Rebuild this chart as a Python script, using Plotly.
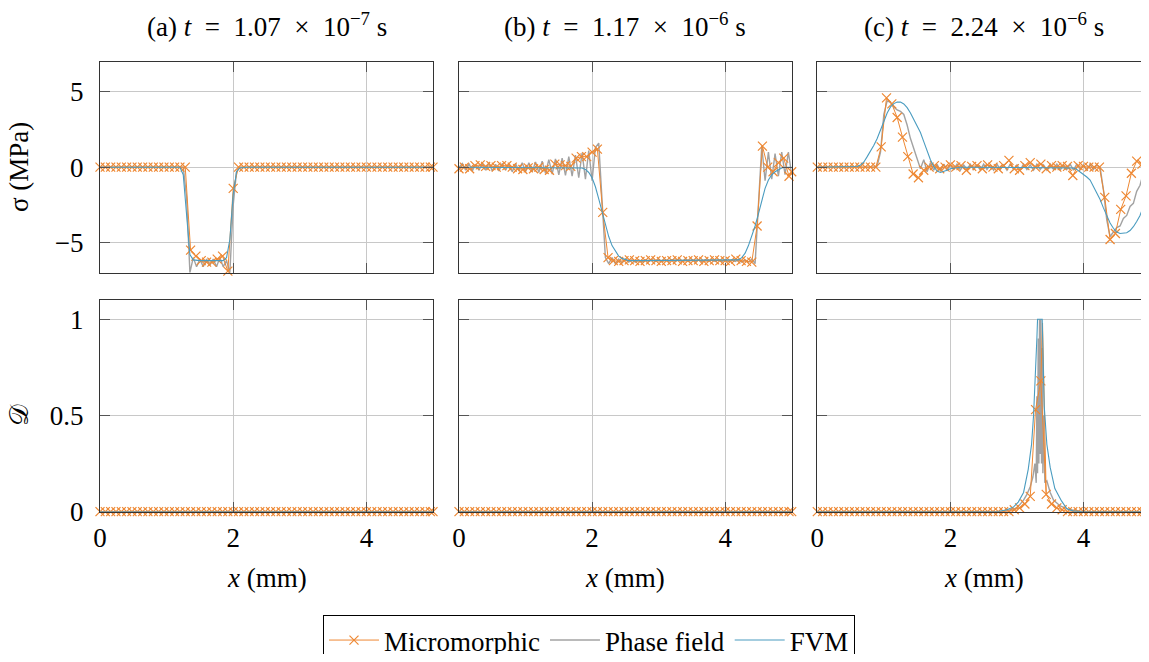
import plotly.graph_objects as go

# ---------------- data ----------------
# micromorphic sampling grid (mm)
X_MM = [0.00, 0.08, 0.16, 0.24, 0.32, 0.40, 0.48, 0.56, 0.64, 0.72,
        0.80, 0.88, 0.96, 1.04, 1.12, 1.20, 1.28, 1.36, 1.44, 1.52,
        1.60, 1.68, 1.76, 1.84, 1.92, 2.00, 2.08, 2.16, 2.24, 2.32,
        2.40, 2.48, 2.56, 2.64, 2.72, 2.80, 2.88, 2.96, 3.04, 3.12,
        3.20, 3.28, 3.36, 3.44, 3.52, 3.60, 3.68, 3.76, 3.84, 3.92,
        4.00, 4.08, 4.16, 4.24, 4.32, 4.40, 4.48, 4.56, 4.64, 4.72,
        4.80, 4.88, 4.96, 5.00]

# phase field / FVM sampling grid (mm)
X_FINE = [0.00, 0.05, 0.10, 0.15, 0.20, 0.25, 0.30, 0.35, 0.40, 0.45,
          0.50, 0.55, 0.60, 0.65, 0.70, 0.75, 0.80, 0.85, 0.90, 0.95,
          1.00, 1.05, 1.10, 1.15, 1.20, 1.25, 1.30, 1.35, 1.40, 1.45,
          1.50, 1.55, 1.60, 1.65, 1.70, 1.75, 1.80, 1.85, 1.90, 1.95,
          2.00, 2.05, 2.10, 2.15, 2.20, 2.25, 2.30, 2.35, 2.40, 2.45,
          2.50, 2.55, 2.60, 2.65, 2.70, 2.75, 2.80, 2.85, 2.90, 2.95,
          3.00, 3.05, 3.10, 3.15, 3.20, 3.25, 3.30, 3.35, 3.40, 3.45,
          3.50, 3.55, 3.60, 3.65, 3.70, 3.75, 3.80, 3.85, 3.90, 3.95,
          4.00, 4.05, 4.10, 4.15, 4.20, 4.25, 4.30, 4.35, 4.40, 4.45,
          4.50, 4.55, 4.60, 4.65, 4.70, 4.75, 4.80, 4.85, 4.90, 4.95,
          5.00]

X_ENDS = [0.0, 5.0]
ZERO_ENDS = [0.0, 0.0]

# ---- stress sigma (MPa), panel (a) ----
MM_SIG_A = [0, 0, 0, 0, 0, 0, 0, 0, 0, 0,
            0, 0, 0, 0, 0, 0, 0, -5.5, -5.9, -6.2,
            -6.3, -6.3, -6.1, -5.9, -6.9, -1.4, 0, 0, 0, 0,
            0, 0, 0, 0, 0, 0, 0, 0, 0, 0,
            0, 0, 0, 0, 0, 0, 0, 0, 0, 0,
            0, 0, 0, 0, 0, 0, 0, 0, 0, 0,
            0, 0, 0, 0]
PF_SIG_A = [0, 0, 0, 0, 0, 0, 0, 0, 0, 0,
            0, 0, 0, 0, 0, 0, 0, 0, 0, 0,
            0, 0, 0, 0, 0, 0, -2.0, -7.0, -6.0, -6.6,
            -6.1, -6.6, -6.1, -6.5, -6.1, -6.6, -6.0, -6.6, -6.2, -7.0,
            -2.5, -0.3, 0, 0, 0, 0, 0, 0, 0, 0,
            0, 0, 0, 0, 0, 0, 0, 0, 0, 0,
            0, 0, 0, 0, 0, 0, 0, 0, 0, 0,
            0, 0, 0, 0, 0, 0, 0, 0, 0, 0,
            0, 0, 0, 0, 0, 0, 0, 0, 0, 0,
            0, 0, 0, 0, 0, 0, 0, 0, 0, 0,
            0]
FVM_SIG_A = [0, 0, 0, 0, 0, 0, 0, 0, 0, 0,
             0, 0, 0, 0, 0, 0, 0, 0, 0, 0,
             0, 0, 0, 0, 0, -0.5, -3.2, -5.8, -6.15, -6.2,
             -6.2, -6.2, -6.2, -6.2, -6.2, -6.2, -6.2, -6.2, -6.0, -4.8,
             -1.8, -0.3, -0.05, 0, 0, 0, 0, 0, 0, 0,
             0, 0, 0, 0, 0, 0, 0, 0, 0, 0,
             0, 0, 0, 0, 0, 0, 0, 0, 0, 0,
             0, 0, 0, 0, 0, 0, 0, 0, 0, 0,
             0, 0, 0, 0, 0, 0, 0, 0, 0, 0,
             0, 0, 0, 0, 0, 0, 0, 0, 0, 0,
             0]

# ---- panel (b) ----
MM_SIG_B = [-0.1, 0.0, -0.1, 0.1, 0.15, 0.05, 0.1, 0.0, 0.1, 0.1,
            0.0, -0.1, -0.15, -0.05, -0.1, 0.0, -0.15, -0.2, 0.2, 0.15,
            0.1, 0.05, 0.6, 0.7, 0.7, 1.0, 1.2, -3.0, -6.0, -6.2,
            -6.25, -6.2, -6.15, -6.2, -6.25, -6.2, -6.15, -6.2, -6.25, -6.2,
            -6.2, -6.15, -6.25, -6.2, -6.2, -6.15, -6.25, -6.2, -6.15, -6.2,
            -6.2, -6.25, -6.1, -6.2, -6.25, -6.3, -3.9, 1.4, 0.0, -0.3,
            0.3, 0.6, -0.6, -0.3]
PF_SIG_B = [0.0, 0.25, -0.2, 0.25, -0.25, 0.2, -0.2, 0.25, -0.2, 0.3,
            -0.25, 0.2, -0.25, 0.25, -0.2, 0.2, -0.3, 0.25, -0.25, 0.3,
            -0.3, 0.3, -0.3, 0.35, -0.35, 0.4, -0.4, 0.5, -0.45, 0.55,
            -0.5, 0.6, -0.55, 0.7, -0.6, 0.8, -0.7, 0.95, -0.8, 1.1,
            -0.9, 1.3, 1.6, -2.5, -6.0, -6.4, -6.0, -6.4, -6.1, -6.35,
            -6.1, -6.3, -6.15, -6.3, -6.15, -6.3, -6.15, -6.25, -6.15, -6.25,
            -6.15, -6.25, -6.15, -6.25, -6.15, -6.25, -6.15, -6.25, -6.15, -6.25,
            -6.15, -6.25, -6.15, -6.25, -6.15, -6.25, -6.15, -6.25, -6.15, -6.25,
            -6.15, -6.25, -6.15, -6.25, -6.15, -6.3, -6.15, -6.3, -6.1, -6.4,
            -2.5, 1.4, -0.9, 1.0, -0.8, 0.9, -0.6, 1.0, -0.5, 1.0,
            -0.5]
FVM_SIG_B = [0, 0, 0, 0, 0, 0, 0, 0, 0, 0,
             0, 0, 0, 0, 0, 0, 0, 0, 0, 0,
             0, 0, 0, 0, 0, 0, 0, 0, 0, 0,
             0, 0, 0, 0, 0, 0, 0, -0.05, -0.15, -0.35,
             -0.7, -1.3, -2.1, -2.9, -3.8, -4.6, -5.2, -5.6, -5.9, -6.05,
             -6.15, -6.2, -6.2, -6.2, -6.2, -6.2, -6.2, -6.2, -6.2, -6.2,
             -6.2, -6.2, -6.2, -6.2, -6.2, -6.2, -6.2, -6.2, -6.2, -6.2,
             -6.2, -6.2, -6.2, -6.2, -6.2, -6.2, -6.2, -6.2, -6.2, -6.2,
             -6.2, -6.2, -6.2, -6.2, -6.15, -6.0, -5.7, -5.2, -4.6, -3.9,
             -3.1, -2.2, -1.4, -0.85, -0.5, -0.3, -0.15, -0.05, 0, 0,
             0]

# ---- panel (c) ----
MM_SIG_C = [0, 0, 0, 0, 0, 0, 0, 0, 0, 0,
            0, 0, 1.35, 4.6, 4.2, 3.3, 2.0, 0.7, -0.45, -0.7,
            -0.2, 0.0, 0.1, -0.1, 0.0, 0.15, 0.0, 0.1, -0.2, 0.05,
            0.1, -0.1, 0.15, 0.0, -0.1, 0.1, 0.45, -0.1, -0.2, 0.1,
            0.3, 0.0, 0.2, -0.1, 0.1, 0.0, 0.1, 0.05, -0.55, 0.1,
            0.05, 0.0, 0.0, 0.0, -2.0, -4.8, -4.4, -2.8, -1.9, -0.4,
            0.4, 0.2, 0.4, 0.3]
PF_SIG_C = [0, 0, 0, 0, 0, 0, 0, 0, 0, 0,
            0, 0, 0, 0, 0, 0, 0, 0, 0.1, 1.0,
            3.5, 4.4, 4.3, 4.0, 3.8, 3.7, 3.5, 2.8, 1.9, 1.2,
            0.5, -0.1, 0.5, -0.3, 0.3, -0.2, 0.2, -0.25, 0.2, -0.2,
            0.15, -0.15, 0.2, -0.2, 0.15, -0.15, 0.2, -0.15, 0.15, -0.2,
            0.2, -0.15, 0.15, -0.2, 0.2, -0.15, 0.15, -0.2, 0.2, -0.15,
            0.15, -0.2, 0.2, -0.15, 0.15, -0.2, 0.2, -0.15, 0.15, -0.2,
            0.2, -0.15, 0.2, -0.2, 0.15, -0.15, 0.2, -0.2, 0.2, -0.15,
            0.15, -0.2, 0.2, -0.15, 0.15, 0.0, -1.5, -3.5, -4.6, -4.3,
            -4.0, -3.9, -3.4, -3.2, -2.6, -2.4, -1.6, -1.2, -0.4, 0.1,
            0.3]
FVM_SIG_C = [0, 0, 0, 0, 0, 0, 0, 0, 0, 0,
             0, 0, 0.05, 0.15, 0.35, 0.7, 1.05, 1.45, 1.9, 2.45,
             3.1, 3.6, 4.0, 4.22, 4.33, 4.32, 4.2, 3.95, 3.6, 3.2,
             2.8, 2.3, 1.7, 1.1, 0.5, 0.05, -0.25, -0.35, -0.3, -0.2,
             -0.1, -0.05, 0, 0, 0, 0, 0, 0, 0, 0,
             0, 0, 0, 0, 0, 0, 0, 0, 0, 0,
             0, 0, 0, 0, 0, 0, 0, 0, 0, 0,
             0, 0, 0, 0, 0, 0, 0, -0.05, -0.15, -0.3,
             -0.45, -0.65, -0.85, -1.25, -1.7, -2.15, -2.7, -3.25, -3.7, -4.05,
             -4.3, -4.4, -4.4, -4.35, -4.2, -3.95, -3.6, -3.2, -2.6, -1.7,
             -0.8]

# ---- damage D ----
MM_D_ZERO = [0.0] * 64
MM_D_C = [0, 0, 0, 0, 0, 0, 0, 0, 0, 0,
          0, 0, 0, 0, 0, 0, 0, 0, 0, 0,
          0, 0, 0, 0, 0, 0, 0, 0, 0, 0,
          0, 0, 0, 0, 0, 0, 0, 0.01, 0.02, 0.04,
          0.08, 0.53, 0.68, 0.09, 0.04, 0.02, 0.01, 0, 0, 0,
          0, 0, 0, 0, 0, 0, 0, 0, 0, 0,
          0, 0, 0, 0]
MM_D_C_PEAK_X = [3.36, 3.385, 3.44]
MM_D_C_PEAK_Y = [0.68, 0.98, 0.09]

PF_D_C_X = [0.0, 2.8, 3.0, 3.1, 3.15, 3.2, 3.24, 3.27, 3.29, 3.30,
            3.31, 3.32, 3.33, 3.34, 3.35, 3.36, 3.37, 3.38, 3.39, 3.40,
            3.42, 3.45, 3.5, 3.55, 3.65, 3.8, 4.0, 5.0]
PF_D_C_Y = [0, 0, 0.02, 0.06, 0.09, 0.13, 0.18, 0.25, 0.15, 0.6,
            0.2, 0.9, 0.25, 1.0, 0.3, 1.0, 0.25, 0.85, 0.2, 0.5,
            0.15, 0.16, 0.1, 0.06, 0.03, 0.01, 0, 0]

FVM_D_C_X = [0.0, 2.7, 2.85, 2.95, 3.02, 3.10, 3.17, 3.22, 3.25, 3.28,
             3.30, 3.31, 3.38, 3.39, 3.41, 3.45, 3.50, 3.57, 3.67, 3.75,
             3.85, 4.0, 5.0]
FVM_D_C_Y = [0, 0, 0.01, 0.025, 0.05, 0.1, 0.22, 0.35, 0.5, 0.7,
             0.9, 1.0, 1.0, 0.85, 0.55, 0.35, 0.23, 0.12, 0.056, 0.015,
             0.003, 0, 0]

SP = "\u2002"
TITLES = ["(a) <i>t</i>" + SP + "=" + SP + "1.07" + SP + "×" + SP + "10<sup>−7</sup> s",
          "(b) <i>t</i>" + SP + "=" + SP + "1.17" + SP + "×" + SP + "10<sup>−6</sup> s",
          "(c) <i>t</i>" + SP + "=" + SP + "2.24" + SP + "×" + SP + "10<sup>−6</sup> s"]
SERIES_NAMES = ["Micromorphic", "Phase field", "FVM"]
X_TICKS = [0, 2, 4]
SIG_TICKS = [-5, 0, 5]
SIG_TICKTEXT = ["−5", "0", "5"]
D_TICKS = [0, 0.5, 1]
D_TICKTEXT = ["0", "0.5", "1"]

# ---------------- style ----------------
C_MM = "#ee8833"
C_PF = "#999999"
C_FVM = "#4a9cc0"
FONT = "Liberation Serif, Times New Roman, Times, serif"
FS = 27
W, H = 1149, 662             # figure fills the whole window

# panel geometry in window pixels
COLS = [(100, 433), (459, 791.7), (817.3, 1150)]
ROWS = [(61.7, 272.7), (300, 511.7)]


def fx(px):
    return px / W


def fy(py):
    return 1 - py / H


fig = go.Figure()

panels = [
    (X_MM, MM_SIG_A, X_FINE, PF_SIG_A, X_FINE, FVM_SIG_A),
    (X_MM, MM_SIG_B, X_FINE, PF_SIG_B, X_FINE, FVM_SIG_B),
    (X_MM, MM_SIG_C, X_FINE, PF_SIG_C, X_FINE, FVM_SIG_C),
    (X_MM, MM_D_ZERO, X_ENDS, ZERO_ENDS, X_ENDS, ZERO_ENDS),
    (X_MM, MM_D_ZERO, X_ENDS, ZERO_ENDS, X_ENDS, ZERO_ENDS),
    (X_MM, MM_D_C, PF_D_C_X, PF_D_C_Y, FVM_D_C_X, FVM_D_C_Y),
]

for k, (mx, my, px, py, vx, vy) in enumerate(panels):
    ax = "" if k == 0 else str(k + 1)
    xa, ya = "x" + ax, "y" + ax
    first = (k == 0)
    fig.add_trace(go.Scatter(x=px, y=py, mode="lines", name=SERIES_NAMES[1],
                             line=dict(color=C_PF, width=1.4), opacity=0.9,
                             xaxis=xa, yaxis=ya, showlegend=first, legendrank=2,
                             cliponaxis=False))
    if k == 5:
        fig.add_trace(go.Scatter(x=MM_D_C_PEAK_X, y=MM_D_C_PEAK_Y, mode="lines",
                                 line=dict(color=C_MM, width=1), xaxis=xa, yaxis=ya,
                                 showlegend=False, cliponaxis=False))
    fig.add_trace(go.Scatter(x=mx, y=my, mode="lines+markers", name=SERIES_NAMES[0],
                             line=dict(color=C_MM, width=1),
                             marker=dict(symbol="x-thin", size=9,
                                         line=dict(color=C_MM, width=1.2)),
                             xaxis=xa, yaxis=ya, showlegend=first, legendrank=1,
                             cliponaxis=False))
    fig.add_trace(go.Scatter(x=vx, y=vy, mode="lines", name=SERIES_NAMES[2],
                             line=dict(color=C_FVM, width=1.1),
                             xaxis=xa, yaxis=ya, showlegend=first, legendrank=3,
                             cliponaxis=False))

axis_common = dict(showline=True, linecolor="#333333", linewidth=1,
                   ticks="inside", ticklen=10, tickcolor="#555555", tickwidth=1,
                   showgrid=True, gridcolor="#c8c8c8", gridwidth=1, zeroline=False,
                   tickfont=dict(family=FONT, size=FS, color="black"))

layout = dict(autosize=True, margin=dict(l=0, r=0, t=0, b=0, autoexpand=False),
              plot_bgcolor="white", paper_bgcolor="white",
              font=dict(family=FONT, size=FS, color="black"),
              legend=dict(orientation="h", x=fx(589), xanchor="center",
                          y=fy(615), yanchor="top", bordercolor="black",
                          borderwidth=1, bgcolor="white", itemwidth=50,
                          font=dict(family=FONT, size=FS, color="black")))

for k in range(6):
    r, c = divmod(k, 3)
    ax = "" if k == 0 else str(k + 1)
    x0, x1 = COLS[c]
    y0, y1 = ROWS[r]
    xmax = 5.0
    if x1 > W:
        xmax = 5.0 * (W - x0) / (x1 - x0)
        x1 = W
    layout["xaxis" + ax] = dict(axis_common, mirror="ticks",
                                domain=[fx(x0), min(fx(x1), 1.0)],
                                range=[0, xmax], tickvals=X_TICKS,
                                showticklabels=(r == 1), ticklabelstandoff=2,
                                anchor="y" + ax)
    if r == 0:
        yextra = dict(range=[-7, 7], tickvals=SIG_TICKS, ticktext=SIG_TICKTEXT)
    else:
        yextra = dict(range=[0, 1.1], tickvals=D_TICKS, ticktext=D_TICKTEXT)
    layout["yaxis" + ax] = dict(axis_common, mirror=("ticks" if c < 2 else False),
                                domain=[fy(y1), fy(y0)],
                                showticklabels=(c == 0), ticklabelstandoff=10,
                                anchor="x" + ax, **yextra)

annotations = []
for c, t in enumerate(TITLES):
    xc = (COLS[c][0] + COLS[c][1]) / 2
    annotations.append(dict(text=t, x=fx(xc), y=fy(25), xref="paper", yref="paper",
                            xanchor="center", yanchor="middle", showarrow=False,
                            font=dict(family=FONT, size=FS)))
    annotations.append(dict(text="<i>x</i> (mm)", x=fx(xc), y=fy(578),
                            xref="paper", yref="paper", xanchor="center",
                            yanchor="middle", showarrow=False,
                            font=dict(family=FONT, size=FS)))
annotations.append(dict(text="σ (MPa)", x=fx(19), y=fy(167), xref="paper",
                        yref="paper", xanchor="center", yanchor="middle",
                        showarrow=False, textangle=-90,
                        font=dict(family=FONT, size=FS)))
annotations.append(dict(text="𝒟", x=fx(19), y=fy(415), xref="paper",
                        yref="paper", xanchor="center", yanchor="middle",
                        showarrow=False, textangle=-90,
                        font=dict(family=FONT, size=FS)))
layout["annotations"] = annotations

fig.update_layout(**layout)
# the plot div fills the window exactly (negative margin cancels the body margin)
fig.write_html("out.html", config={"displayModeBar": False, "responsive": True},
               default_width="100vw",
               default_height="100vh; margin:-8px")
